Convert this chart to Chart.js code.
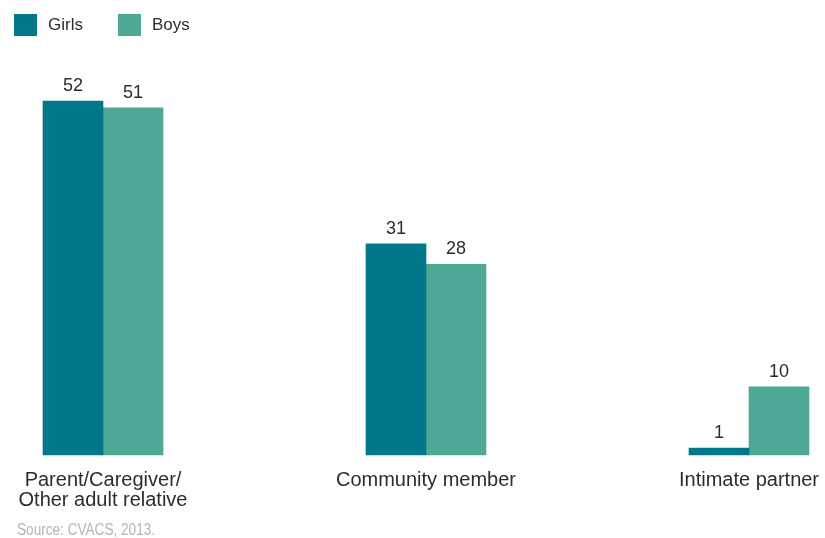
<!doctype html>
<html lang="en">
<head>
<meta charset="utf-8">
<title>Perpetrators of physical violence</title>
<script src="https://cdn.jsdelivr.net/npm/chart.js"></script>
<style>
  body { margin: 0; background: #fff; }
  #wrap { position: relative; width: 825px; height: 538px; font-family: "Liberation Sans", Arial, sans-serif; }
  #legend { position: absolute; left: 14px; top: 14px; display: flex; align-items: center; }
  .item { display: flex; align-items: center; margin-right: 35px; font-size: 17px; color: #2d2d2d; }
  .swatch { width: 23px; height: 22px; margin-right: 11px; }
  #source { position: absolute; left: 17px; top: 521px; font-family: "Liberation Sans Narrow", "Liberation Sans", sans-serif;
            font-size: 16px; color: #b4b4b4; transform: scaleX(0.85); transform-origin: left top; white-space: nowrap; }
</style>
</head>
<body>
<div id="wrap">
  <canvas id="chart"></canvas>
  <div id="legend"></div>
  <div id="source">Source: CVACS, 2013.</div>
</div>
<script>
const categories = [['Parent/Caregiver/', 'Other adult relative'], 'Community member', 'Intimate partner'];
const seriesNames = ['Girls', 'Boys'];
const girls = [52, 31, 1];
const boys = [51, 28, 10];
const colors = ['#00788a', '#4fa896'];

// legend
const legend = document.getElementById('legend');
seriesNames.forEach((name, i) => {
  const item = document.createElement('div');
  item.className = 'item';
  item.innerHTML = '<span class="swatch" style="background:' + colors[i] + '"></span>' + name;
  legend.appendChild(item);
});

// value printed above each bar
const valueLabels = {
  id: 'valueLabels',
  afterDatasetsDraw(chart) {
    const ctx = chart.ctx;
    ctx.save();
    ctx.font = '18px "Liberation Sans", Arial, sans-serif';
    ctx.fillStyle = '#2d2d2d';
    ctx.textAlign = 'center';
    ctx.textBaseline = 'alphabetic';
    chart.data.datasets.forEach((ds, i) => {
      chart.getDatasetMeta(i).data.forEach((bar, j) => {
        ctx.fillText(String(ds.data[j]), bar.x, bar.y - 10);
      });
    });
    ctx.restore();
  }
};

new Chart(document.getElementById('chart'), {
  type: 'bar',
  data: {
    labels: categories,
    datasets: [
      { label: seriesNames[0], data: girls, backgroundColor: colors[0], clip: false },
      { label: seriesNames[1], data: boys, backgroundColor: colors[1], clip: false }
    ]
  },
  options: {
    responsive: true,
    maintainAspectRatio: false,
    animation: false,
    devicePixelRatio: 1,
    barThickness: 60,
    layout: { padding: { left: 103, right: 76, top: 46.5, bottom: 13 } },
    plugins: {
      legend: { display: false },
      tooltip: { enabled: false }
    },
    scales: {
      x: {
        offset: false,
        grid: { display: true, drawOnChartArea: false, drawTicks: true, tickLength: 10, color: 'rgba(0,0,0,0)' },
        border: { display: false },
        ticks: {
          padding: 5,
          maxRotation: 0,
          autoSkip: false,
          color: '#2d2d2d',
          font: { family: '"Liberation Sans", Arial, sans-serif', size: 20, lineHeight: 1.0 }
        },
        afterFit(scale) { scale.height = 70; }
      },
      y: {
        display: false,
        min: 0,
        max: 60
      }
    }
  },
  plugins: [valueLabels]
});
</script>
</body>
</html>
